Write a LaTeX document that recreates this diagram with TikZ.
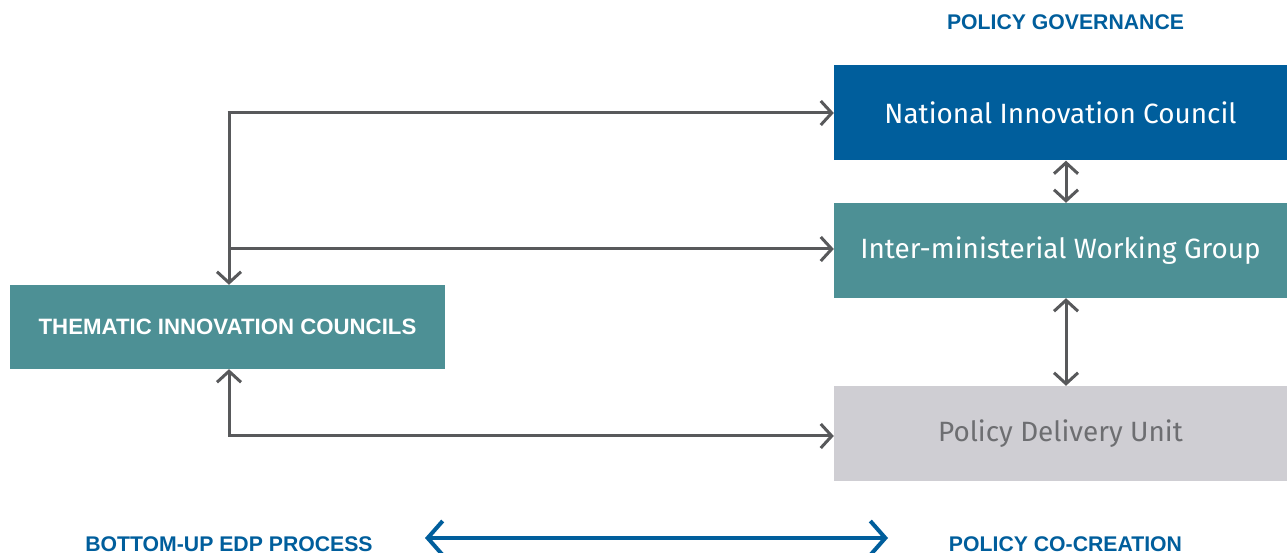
\documentclass[tikz,border=0pt]{standalone}
\usepackage{fontspec}
\setmainfont{Fira Sans}
\newfontfamily\capsfont{Liberation Sans}
\usetikzlibrary{arrows.meta}
\definecolor{navy}{HTML}{005E9C}
\definecolor{teal}{HTML}{4D9095}
\definecolor{paleg}{HTML}{CFCED3}
\definecolor{darkg}{HTML}{58595B}
\definecolor{textg}{HTML}{6D6E71}
\begin{document}
\begin{tikzpicture}[x=1bp,y=-1bp,
  box/.style={draw=none,minimum width=453bp,minimum height=95bp,inner sep=0pt,
    font=\fontsize{28}{32}\selectfont},
  barb/.tip={Straight Barb[length=11bp,width=24bp,line width=3bp]},
  bigbarb/.tip={Straight Barb[length=15bp,width=34bp,line width=4bp]},
  link/.style={draw=darkg,line width=3bp,-barb},
  both/.style={draw=darkg,line width=3bp,barb-barb},
  head/.style={text=navy,font=\capsfont\bfseries\fontsize{21.3}{23}\selectfont,inner sep=0pt}]
\useasboundingbox (0,0) rectangle (1287,553);
\fill[white] (0,0) rectangle (1287,553);

% right column of bodies
\node[box,fill=navy,text=white] (nic) at (1060.5,113) {National Innovation Council};
\node[box,fill=teal,text=white] (iwg) at (1060.5,250.5) {Inter-ministerial Working Group};
\node[box,fill=paleg,text=textg] (pdu) at (1060.5,433.5) {Policy Delivery Unit};

% thematic councils
\node[fill=teal,text=white,minimum width=435bp,minimum height=84bp,inner sep=0pt,
  font=\capsfont\bfseries\fontsize{22.3}{24}\selectfont] (tic) at (227.5,327) {THEMATIC INNOVATION COUNCILS};

% headings
\node[head] (gov) at (1065.5,22.5) {POLICY GOVERNANCE};
\node[head,anchor=base] (edp) at (229,551) {BOTTOM-UP EDP PROCESS};
\node[head,anchor=base] (cocr) at (1065.5,551) {POLICY CO-CREATION};

% junction points
\coordinate (top) at (229,113);
\coordinate (mid) at (229,249);
\coordinate (low) at (229,436);

% connectors
\draw[link] ([xshift=-1.5bp]top) -- (nic.west |- top);
\draw[link] (mid) -- (iwg.west |- mid);
\draw[link] ([yshift=-1.5bp]top) -- (tic.north -| top);
\draw[both] (tic.south -| low) -- (low) -- (pdu.west |- low);
\draw[both] (nic.south -| 1066,0) -- (iwg.north -| 1066,0);
\draw[both] (iwg.south -| 1066,0) -- (pdu.north -| 1066,0);

% process arrow
\coordinate (pl) at (425,538);
\coordinate (pr) at (888,538);
\draw[navy,line width=4.5bp,bigbarb-bigbarb] (pl) -- (pr);
\end{tikzpicture}
\end{document}
